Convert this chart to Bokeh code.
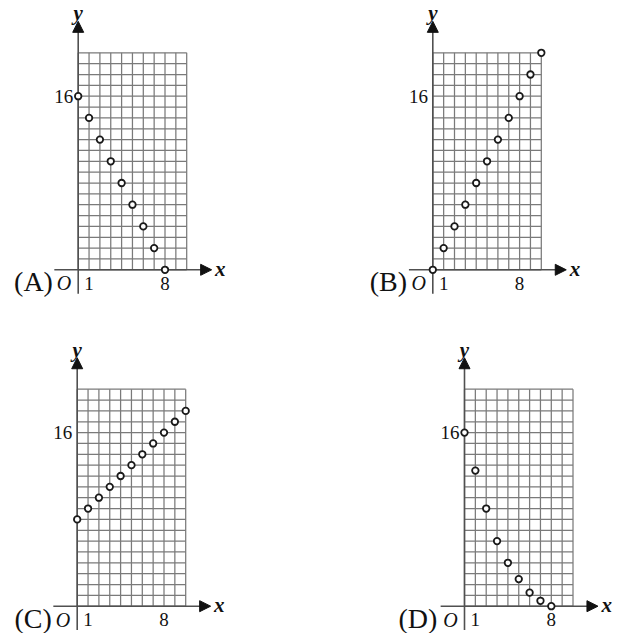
from bokeh.plotting import figure
from bokeh.models import Range1d, Arrow, NormalHead
from bokeh.layouts import gridplot
from bokeh.embed import file_html
from bokeh.resources import INLINE
from bokeh.core.properties import value

# ---------------- data ----------------
panel_labels = ["(A)", "(B)", "(C)", "(D)"]

x_a = [0, 1, 2, 3, 4, 5, 6, 7, 8]
y_a = [16, 14, 12, 10, 8, 6, 4, 2, 0]

x_b = [0, 1, 2, 3, 4, 5, 6, 7, 8, 9, 10]
y_b = [0, 2, 4, 6, 8, 10, 12, 14, 16, 18, 20]

x_c = [0, 1, 2, 3, 4, 5, 6, 7, 8, 9, 10]
y_c = [8, 9, 10, 11, 12, 13, 14, 15, 16, 17, 18]

x_d = [0, 1, 2, 3, 4, 5, 6, 7, 8]
y_d = [16, 12.5, 9, 6, 4, 2.5, 1.25, 0.5, 0]

grid_cols = [0, 1, 2, 3, 4, 5, 6, 7, 8, 9, 10]
grid_rows = list(range(0, 21))

x_tick_values = [1, 8]
x_tick_labels = ["1", "8"]
y_tick_values = [16]
y_tick_labels = ["16"]

origin_label = "O"
x_name = "x"
y_name = "y"

series = [(x_a, y_a), (x_b, y_b), (x_c, y_c), (x_d, y_d)]

# ---------------- layout / style ----------------
UNIT = 10.85  # pixels per data unit
# (width, height, origin px from left, origin px from top, panel-label x offset)
layout = [
    (308, 317, 77.7, 269.3, -4.12),
    (309, 317, 124.3, 269.3, -4.10),
    (308, 316, 76.7, 288.7, -4.06),
    (309, 316, 156.0, 288.7, -4.30),
]
SERIF = value("Liberation Serif")
GRID_COLOR = "#7a7a7a"
AXIS_COLOR = "#505050"
INK = "#111111"

AX_MIN = -2.2
X_TIP = 12.3
Y_TIP = 22.9


def make_panel(i):
    W, H, ox, oy, ldx = layout[i]
    xs, ys = series[i]
    p = figure(
        width=W, height=H,
        x_range=Range1d(-ox / UNIT, (W - ox) / UNIT),
        y_range=Range1d(-(H - oy) / UNIT, oy / UNIT),
        min_border=0, toolbar_location=None, output_backend="svg",
        x_axis_location=None, y_axis_location=None, title=None,
    )
    p.outline_line_color = None
    p.background_fill_color = "white"
    p.border_fill_color = "white"
    p.xgrid.visible = False
    p.ygrid.visible = False

    g0, g1 = grid_rows[0], grid_rows[-1]
    c0, c1 = grid_cols[0], grid_cols[-1]
    # vertical grid lines
    p.segment(x0=grid_cols, y0=[g0] * len(grid_cols), x1=grid_cols,
              y1=[g1] * len(grid_cols), line_color=GRID_COLOR, line_width=1.25)
    # horizontal grid lines
    p.segment(x0=[c0] * len(grid_rows), y0=grid_rows, x1=[c1] * len(grid_rows),
              y1=grid_rows, line_color=GRID_COLOR, line_width=1.25)

    # axes lines
    p.segment(x0=[AX_MIN, 0], y0=[0, AX_MIN], x1=[X_TIP - 0.3, 0], y1=[0, Y_TIP - 0.3],
              line_color=AXIS_COLOR, line_width=1.6)
    # arrow heads
    p.add_layout(Arrow(x_start=X_TIP - 1, y_start=0, x_end=X_TIP, y_end=0,
                       line_alpha=0,
                       end=NormalHead(size=11, fill_color=INK, line_color=INK, line_width=1)))
    p.add_layout(Arrow(x_start=0, y_start=Y_TIP - 1, x_end=0, y_end=Y_TIP,
                       line_alpha=0,
                       end=NormalHead(size=11, fill_color=INK, line_color=INK, line_width=1)))

    # data points
    p.scatter(xs, ys, marker="circle", size=6.5, fill_color="white",
              line_color="#1a1a1a", line_width=1.8)

    # tick labels
    p.text(x=x_tick_values, y=[-1.25] * len(x_tick_values), text=x_tick_labels,
           text_font=SERIF, text_font_size=value("19px"), text_color=INK,
           text_align="center", text_baseline="middle")
    p.text(x=[-0.45] * len(y_tick_values), y=y_tick_values, text=y_tick_labels,
           text_font=SERIF, text_font_size=value("19px"), text_color=INK,
           text_align="right", text_baseline="middle")
    # origin
    p.text(x=[-1.3], y=[-1.25], text=[origin_label], text_font=SERIF,
           text_font_size=value("20px"), text_font_style="italic", text_color=INK,
           text_align="center", text_baseline="middle")
    # axis names
    p.text(x=[X_TIP + 0.8], y=[0.1], text=[x_name], text_font=SERIF,
           text_font_size=value("21px"), text_font_style="bold italic", text_color=INK,
           text_align="center", text_baseline="middle")
    p.text(x=[0], y=[Y_TIP + 0.75], text=[y_name], text_font=SERIF,
           text_font_size=value("21px"), text_font_style="bold italic", text_color=INK,
           text_align="center", text_baseline="middle")
    # panel label
    p.text(x=[ldx], y=[-1.1], text=[panel_labels[i]], text_font=SERIF,
           text_font_size=value("28px"), text_color=INK,
           text_align="center", text_baseline="middle")
    return p


panels = [make_panel(i) for i in range(4)]
grid = gridplot([[panels[0], panels[1]], [panels[2], panels[3]]], toolbar_location=None)

open("out.html", "w").write(file_html(grid, INLINE))
